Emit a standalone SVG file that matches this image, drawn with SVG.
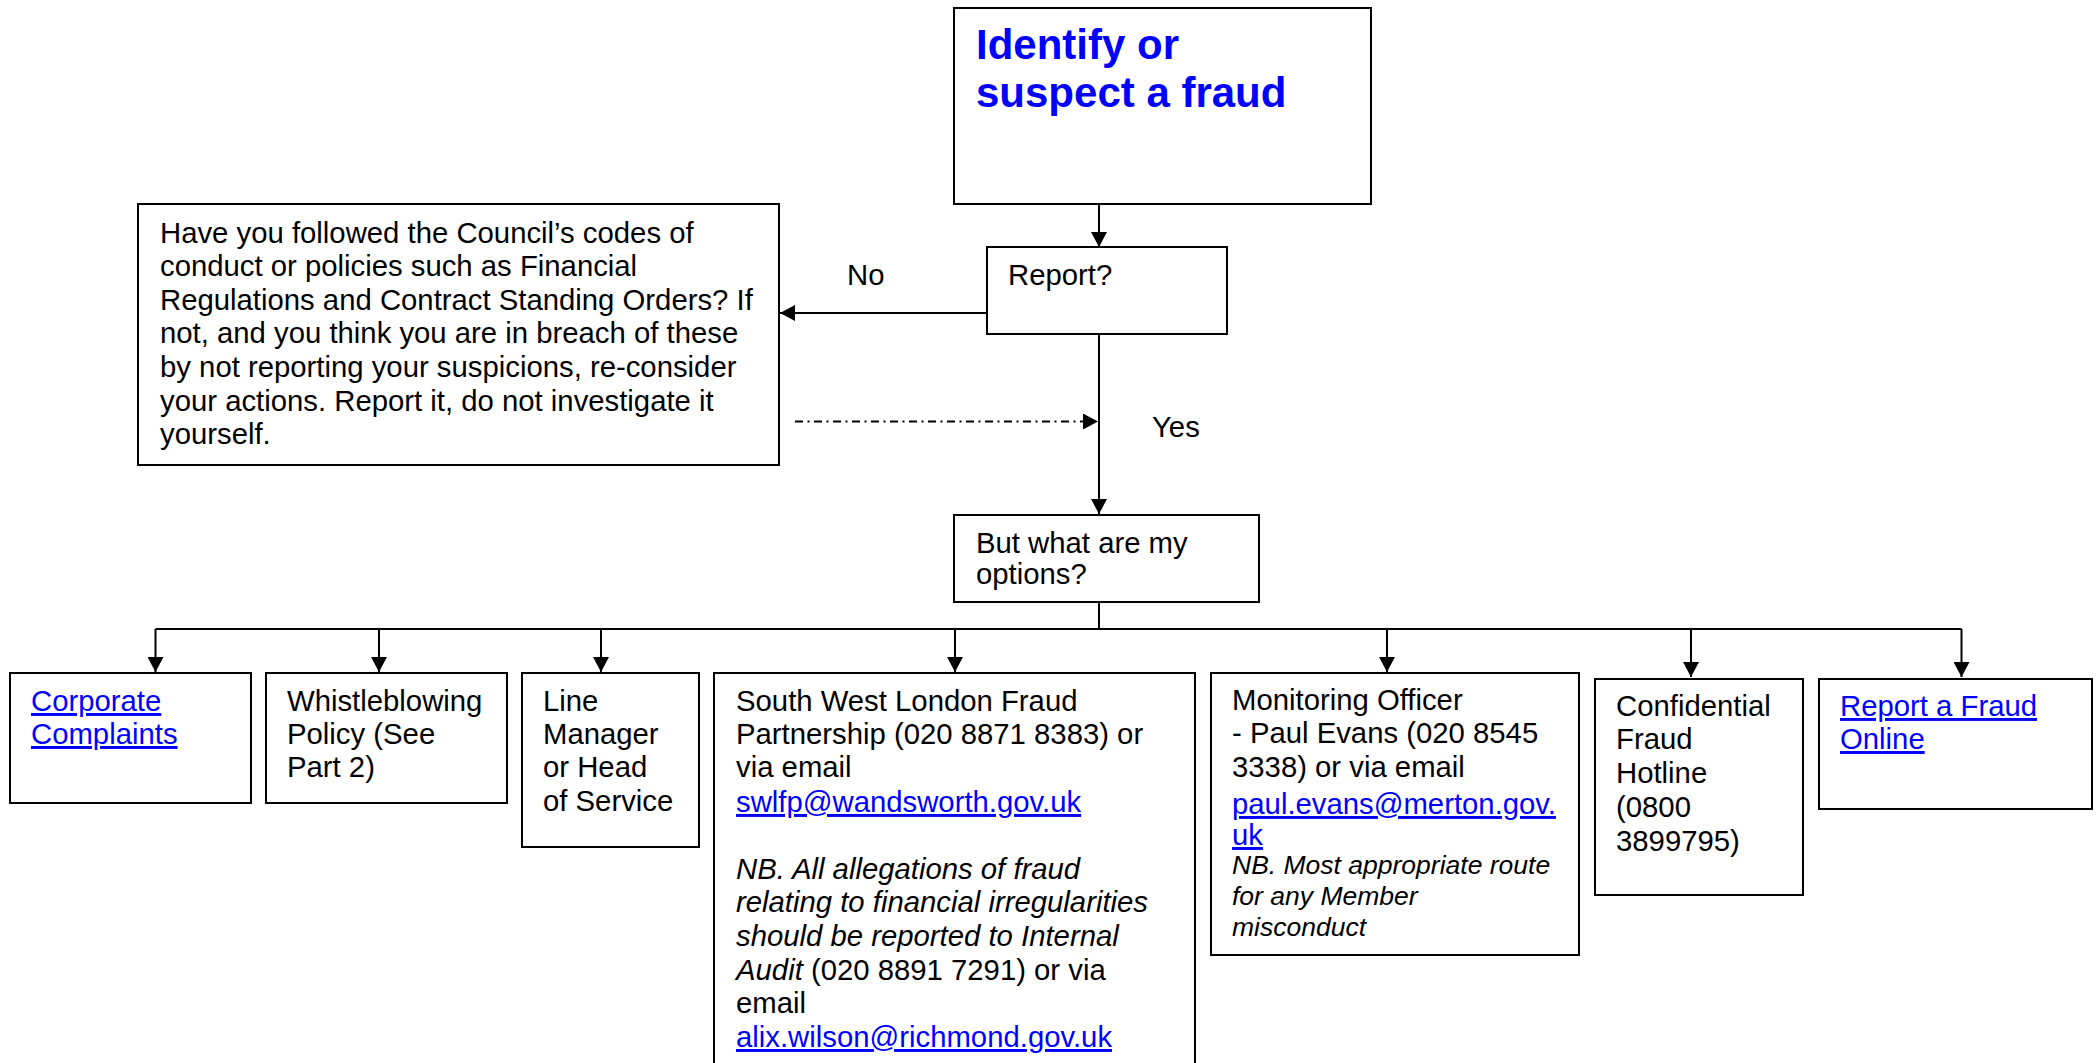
<svg xmlns="http://www.w3.org/2000/svg" width="2098" height="1063" viewBox="0 0 2098 1063">
<style>
  .box { fill: #ffffff; stroke: #000000; stroke-width: 2; }
  .t { font-family: "Liberation Sans", Arial, sans-serif; font-size: 29.3px; fill: #000000; }
  .i { font-style: italic; }
  .link { fill: #0000ff; text-decoration: underline; }
  .title { font-family: "Liberation Sans", Arial, sans-serif; font-size: 42px; font-weight: bold; fill: #0000ff; }
  .conn { fill: none; stroke: #000000; stroke-width: 2; }
  .dashdot { stroke-dasharray: 8 4.5 2 4.5; }
</style>
<defs>
  <marker id="arrow" viewBox="0 0 15 16" refX="15" refY="8" markerWidth="15" markerHeight="16" markerUnits="userSpaceOnUse" orient="auto">
    <path d="M0,0 L15,8 L0,16 z" fill="#000000"/>
  </marker>
</defs>
<rect width="2098" height="1063" fill="#ffffff"/>

<g id="connectors">
  <line class="conn" x1="1099" y1="205" x2="1099" y2="247" marker-end="url(#arrow)"/>
  <line class="conn" x1="987" y1="313" x2="780" y2="313" marker-end="url(#arrow)"/>
  <line class="conn dashdot" x1="795" y1="421.5" x2="1098" y2="421.5" marker-end="url(#arrow)"/>
  <line class="conn" x1="1099" y1="334" x2="1099" y2="514" marker-end="url(#arrow)"/>
  <line class="conn" x1="1099" y1="602" x2="1099" y2="629"/>
  <line class="conn" x1="155.5" y1="629" x2="1961.5" y2="629"/>
  <line class="conn" x1="155.5" y1="629" x2="155.5" y2="672" marker-end="url(#arrow)"/>
  <line class="conn" x1="379" y1="629" x2="379" y2="672" marker-end="url(#arrow)"/>
  <line class="conn" x1="601" y1="629" x2="601" y2="672" marker-end="url(#arrow)"/>
  <line class="conn" x1="955" y1="629" x2="955" y2="672" marker-end="url(#arrow)"/>
  <line class="conn" x1="1387" y1="629" x2="1387" y2="672" marker-end="url(#arrow)"/>
  <line class="conn" x1="1691" y1="629" x2="1691" y2="677" marker-end="url(#arrow)"/>
  <line class="conn" x1="1961.5" y1="629" x2="1961.5" y2="677" marker-end="url(#arrow)"/>
  <text class="t" x="847" y="285">No</text>
  <text class="t" x="1152" y="437">Yes</text>
</g>

<g id="node-identify">
  <rect class="box" x="954" y="8" width="417" height="196"/>
  <text class="title" x="976" y="59">Identify or</text>
  <text class="title" x="976" y="107">suspect a fraud</text>
</g>

<g id="node-report">
  <rect class="box" x="987" y="247" width="240" height="87"/>
  <text class="t" x="1008" y="285">Report?</text>
</g>

<g id="node-codes">
  <rect class="box" x="138" y="204" width="641" height="261"/>
  <text class="t">
    <tspan x="160" y="243">Have you followed the Council’s codes of</tspan>
    <tspan x="160" y="276">conduct or policies such as Financial</tspan>
    <tspan x="160" y="310">Regulations and Contract Standing Orders? If</tspan>
    <tspan x="160" y="343">not, and you think you are in breach of these</tspan>
    <tspan x="160" y="377">by not reporting your suspicions, re-consider</tspan>
    <tspan x="160" y="411">your actions. Report it, do not investigate it</tspan>
    <tspan x="160" y="444">yourself.</tspan>
  </text>
</g>

<g id="node-options">
  <rect class="box" x="954" y="515" width="305" height="87"/>
  <text class="t">
    <tspan x="976" y="553">But what are my</tspan>
    <tspan x="976" y="584">options?</tspan>
  </text>
</g>

<g id="node-corporate">
  <rect class="box" x="10" y="673" width="241" height="130"/>
  <text class="t link" x="31" y="711">Corporate</text>
  <text class="t link" x="31" y="744">Complaints</text>
</g>

<g id="node-whistleblowing">
  <rect class="box" x="266" y="673" width="241" height="130"/>
  <text class="t">
    <tspan x="287" y="711">Whistleblowing</tspan>
    <tspan x="287" y="744">Policy (See</tspan>
    <tspan x="287" y="777">Part 2)</tspan>
  </text>
</g>

<g id="node-linemanager">
  <rect class="box" x="522" y="673" width="177" height="174"/>
  <text class="t">
    <tspan x="543" y="711">Line</tspan>
    <tspan x="543" y="744">Manager</tspan>
    <tspan x="543" y="777">or Head</tspan>
    <tspan x="543" y="811">of Service</tspan>
  </text>
</g>

<g id="node-swlfp">
  <rect class="box" x="714" y="673" width="481" height="420"/>
  <text class="t">
    <tspan x="736" y="711">South West London Fraud</tspan>
    <tspan x="736" y="744">Partnership (020 8871 8383) or</tspan>
    <tspan x="736" y="777">via email</tspan>
  </text>
  <text class="t link" x="736" y="812">swlfp@wandsworth.gov.uk</text>
  <text class="t">
    <tspan class="i" x="736" y="879">NB. All allegations of fraud</tspan>
    <tspan class="i" x="736" y="912">relating to financial irregularities</tspan>
    <tspan class="i" x="736" y="946">should be reported to Internal</tspan>
    <tspan x="736" y="980"><tspan class="i">Audit</tspan> (020 8891 7291) or via</tspan>
    <tspan x="736" y="1013">email</tspan>
  </text>
  <text class="t link" x="736" y="1047">alix.wilson@richmond.gov.uk</text>
</g>

<g id="node-monitoring">
  <rect class="box" x="1211" y="673" width="368" height="282"/>
  <text class="t">
    <tspan x="1232" y="710">Monitoring Officer</tspan>
    <tspan x="1232" y="743">- Paul Evans (020 8545</tspan>
    <tspan x="1232" y="777">3338) or via email</tspan>
  </text>
  <text class="t link" x="1232" y="814">paul.evans@merton.gov.</text>
  <text class="t link" x="1232" y="845">uk</text>
  <text class="t i" style="font-size:26.5px">
    <tspan x="1232" y="874">NB. Most appropriate route</tspan>
    <tspan x="1232" y="905">for any Member</tspan>
    <tspan x="1232" y="936">misconduct</tspan>
  </text>
</g>

<g id="node-hotline">
  <rect class="box" x="1595" y="679" width="208" height="216"/>
  <text class="t">
    <tspan x="1616" y="716">Confidential</tspan>
    <tspan x="1616" y="749">Fraud</tspan>
    <tspan x="1616" y="783">Hotline</tspan>
    <tspan x="1616" y="817">(0800</tspan>
    <tspan x="1616" y="851">3899795)</tspan>
  </text>
</g>

<g id="node-online">
  <rect class="box" x="1819" y="679" width="273" height="130"/>
  <text class="t link" x="1840" y="716">Report a Fraud</text>
  <text class="t link" x="1840" y="749">Online</text>
</g>
</svg>
